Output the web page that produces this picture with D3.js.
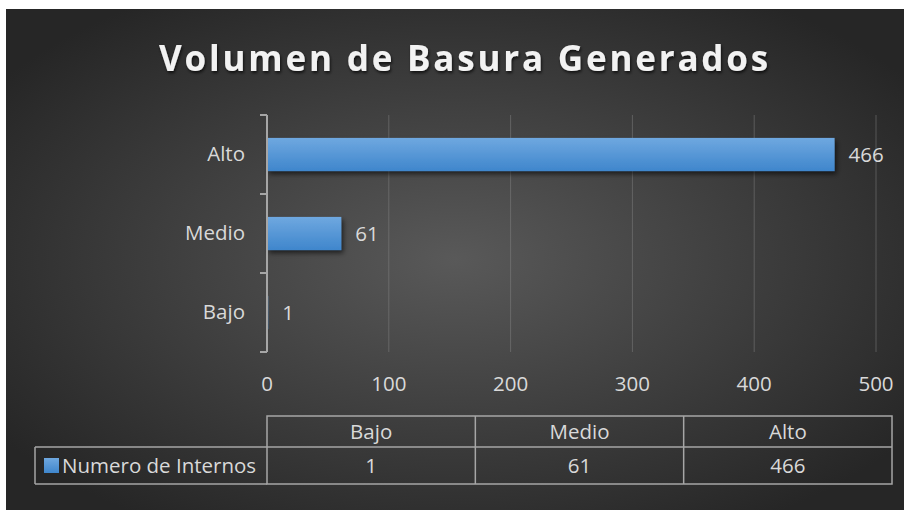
<!DOCTYPE html>
<html>
<head>
<meta charset="utf-8">
<script src="https://cdn.jsdelivr.net/npm/d3@7"></script>
<style>
  html, body { margin: 0; padding: 0; background: #fff; }
  svg { display: block; font-family: "Open Sans", "Noto Sans", sans-serif; }
</style>
</head>
<body>
<div class="chart"></div>
<script>
'use strict';

// data
var categories = ['Bajo', 'Medio', 'Alto'];
var values = [1, 61, 466];
var seriesName = 'Numero de Internos';
var xTicks = [0, 100, 200, 300, 400, 500];
var chartTitle = 'Volumen de Basura Generados';

var w = 910, h = 510;
var fs = 20.5;

var svg = d3.select('.chart')
    .append('svg')
    .attr('width', w)
    .attr('height', h);

/*---------------------------------------------------------------
background
---------------------------------------------------------------*/
var defs = svg.append('defs');
var bg = defs.append('radialGradient')
    .attr('id', 'bg')
    .attr('cx', '50%').attr('cy', '50%').attr('r', '62%');
bg.append('stop').attr('offset', '0%').attr('stop-color', '#595959');
bg.append('stop').attr('offset', '100%').attr('stop-color', '#262626');

var barGrad = defs.append('linearGradient')
    .attr('id', 'barg')
    .attr('x1', 0).attr('y1', 0).attr('x2', 0).attr('y2', 1);
barGrad.append('stop').attr('offset', '0%').attr('stop-color', '#6fa8e0');
barGrad.append('stop').attr('offset', '100%').attr('stop-color', '#3f86cc');

var shadow = defs.append('filter').attr('id', 'shadow')
    .attr('x', '-10%').attr('y', '-30%').attr('width', '130%').attr('height', '190%');
shadow.append('feDropShadow')
    .attr('dx', 2).attr('dy', 3).attr('stdDeviation', 2.5)
    .attr('flood-color', '#000').attr('flood-opacity', 0.6);

var tshadow = defs.append('filter').attr('id', 'tshadow');
tshadow.append('feDropShadow')
    .attr('dx', 1).attr('dy', 2).attr('stdDeviation', 1.5)
    .attr('flood-color', '#000').attr('flood-opacity', 0.7);

svg.append('rect')
    .attr('x', 6).attr('y', 9)
    .attr('width', 898).attr('height', 501)
    .attr('fill', 'url(#bg)');

/*---------------------------------------------------------------
title
---------------------------------------------------------------*/
svg.append('text')
    .attr('x', 465).attr('y', 71)
    .attr('text-anchor', 'middle')
    .attr('fill', '#f2f2f2')
    .attr('font-size', 35)
    .attr('font-weight', 700)
    .attr('letter-spacing', 2.8)
    .attr('filter', 'url(#tshadow)')
    .text(chartTitle);

/*---------------------------------------------------------------
scales
---------------------------------------------------------------*/
var x = d3.scaleLinear().domain([0, 500]).range([267, 876]);
var y = d3.scaleBand()
    .domain(categories.slice().reverse())
    .range([115, 352])
    .paddingInner(0.58)
    .paddingOuter(0.29);

// gridlines
svg.append('g')
    .selectAll('line')
    .data(xTicks.slice(1))
    .enter()
    .append('line')
    .attr('x1', function(d) { return x(d); })
    .attr('x2', function(d) { return x(d); })
    .attr('y1', 115).attr('y2', 352)
    .attr('stroke', '#8a8a8a')
    .attr('stroke-opacity', 0.45)
    .attr('stroke-width', 1);

// x labels
svg.append('g')
    .selectAll('text')
    .data(xTicks)
    .enter()
    .append('text')
    .attr('x', function(d) { return x(d); })
    .attr('y', 391)
    .attr('text-anchor', 'middle')
    .attr('fill', '#d9d9d9')
    .attr('font-size', fs)
    .text(function(d) { return d; });

// bars
svg.append('g')
    .selectAll('rect')
    .data(values)
    .enter()
    .append('rect')
    .attr('x', x(0))
    .attr('y', function(d, i) { return y(categories[i]); })
    .attr('width', function(d) { return x(d) - x(0); })
    .attr('height', y.bandwidth())
    .attr('fill', 'url(#barg)')
    .attr('filter', 'url(#shadow)');

// value labels
svg.append('g')
    .selectAll('text')
    .data(values)
    .enter()
    .append('text')
    .attr('x', function(d) { return x(d) + 14; })
    .attr('y', function(d, i) { return y(categories[i]) + y.bandwidth() / 2 + 7; })
    .attr('fill', '#d9d9d9')
    .attr('font-size', fs)
    .text(function(d) { return d; });

// y axis
var yAxis = d3.axisLeft(y).tickSize(0).tickPadding(22);
var ya = svg.append('g')
    .attr('transform', 'translate(' + x(0) + ',0)')
    .call(yAxis);
ya.attr('font-size', null).attr('font-family', null);
ya.select('.domain').remove();
ya.selectAll('text')
    .attr('fill', '#d9d9d9')
    .style('font-size', fs + 'px');

svg.append('line')
    .attr('x1', x(0)).attr('x2', x(0))
    .attr('y1', 115).attr('y2', 352)
    .attr('stroke', '#a6a6a6').attr('stroke-width', 2);

// tick marks between categories
var tickYs = [115, 194, 273, 352];
svg.append('g')
    .selectAll('line')
    .data(tickYs)
    .enter()
    .append('line')
    .attr('x1', x(0) - 7).attr('x2', x(0))
    .attr('y1', function(d) { return d; })
    .attr('y2', function(d) { return d; })
    .attr('stroke', '#a6a6a6').attr('stroke-width', 2);

/*---------------------------------------------------------------
data table
---------------------------------------------------------------*/
var tx0 = 267, tx1 = 892;
var ty0 = 416, ty1 = 447, ty2 = 484;
var col = d3.scaleBand().domain(categories).range([tx0, tx1]);
var tableStroke = '#a6a6a6';

var tbl = svg.append('g')
    .attr('fill', 'none')
    .attr('stroke', tableStroke)
    .attr('stroke-width', 1.5);

tbl.append('rect').attr('x', tx0).attr('y', ty0).attr('width', tx1 - tx0).attr('height', ty2 - ty0);
tbl.append('line').attr('x1', 35).attr('x2', tx1).attr('y1', ty1).attr('y2', ty1);
tbl.append('line').attr('x1', 35).attr('x2', tx0).attr('y1', ty2).attr('y2', ty2);
tbl.append('line').attr('x1', 35).attr('x2', 35).attr('y1', ty1).attr('y2', ty2);
tbl.selectAll('.cd')
    .data(categories.slice(1))
    .enter()
    .append('line')
    .attr('x1', function(d) { return col(d); })
    .attr('x2', function(d) { return col(d); })
    .attr('y1', ty0).attr('y2', ty2);

svg.append('g')
    .selectAll('text')
    .data(categories)
    .enter()
    .append('text')
    .attr('x', function(d) { return col(d) + col.bandwidth() / 2; })
    .attr('y', 439)
    .attr('text-anchor', 'middle')
    .attr('fill', '#d9d9d9')
    .attr('font-size', fs)
    .text(function(d) { return d; });

svg.append('g')
    .selectAll('text')
    .data(values)
    .enter()
    .append('text')
    .attr('x', function(d, i) { return col(categories[i]) + col.bandwidth() / 2; })
    .attr('y', 473)
    .attr('text-anchor', 'middle')
    .attr('fill', '#d9d9d9')
    .attr('font-size', fs)
    .text(function(d) { return d; });

// legend key
svg.append('rect')
    .attr('x', 44).attr('y', 458)
    .attr('width', 15).attr('height', 15)
    .attr('fill', 'url(#barg)');
svg.append('text')
    .attr('x', 62).attr('y', 473)
    .attr('fill', '#d9d9d9')
    .attr('font-size', fs)
    .text(seriesName);
</script>
</body>
</html>
